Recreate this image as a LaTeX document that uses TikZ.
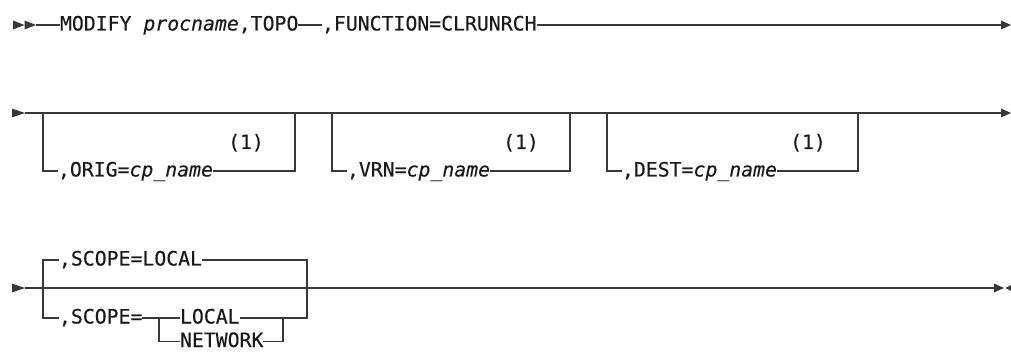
\documentclass[tikz,border=0pt]{standalone}
\usepackage{fontspec}
\setmonofont[FakeBold=0.35]{DejaVu Sans Mono}
\definecolor{railc}{HTML}{383838}
\definecolor{txtc}{HTML}{1A1A1A}
\begin{document}
\begin{tikzpicture}[x=1pt,y=-1pt,
  rail/.style={draw=railc, line width=1.3pt},
  tipfill/.style={fill=railc},
  lbl/.style={inner sep=0pt, outer sep=0pt, anchor=west, text height=11pt, text depth=0pt,
    font=\ttfamily\fontsize{19.8}{22}\selectfont, text=txtc},
  note/.style={lbl, anchor=center}]
\useasboundingbox (0,0) rectangle (1011,352);

% ---------- row 1 ----------
\coordinate (r1s) at (36,25);
\coordinate (r1e) at (1001,25);
\node[lbl] (m1) at (60,25) {MODIFY \textit{procname},TOPO};
\node[lbl] (m2) at (322,25) {,FUNCTION=CLRUNRCH};
\draw[rail] (r1s) -- (m1.west);
\draw[rail] (m1.east) -- (m2.west);
\draw[rail] (m2.east) -- (r1e);
\fill[tipfill] (13,20.5) -- (24.5,25) -- (13,29.5) -- cycle;
\fill[tipfill] (24.5,20.5) -- (36,25) -- (24.5,29.5) -- cycle;
\fill[tipfill] (1001,20.5) -- (1011,25) -- (1001,29.5) -- cycle;

% ---------- row 2 ----------
\coordinate (r2s) at (25,113);
\coordinate (r2e) at (1001,113);
\draw[rail] (r2s) -- (r2e);
\fill[tipfill] (12,108.5) -- (25,113) -- (12,117.5) -- cycle;
\fill[tipfill] (1001,108.5) -- (1011,113) -- (1001,117.5) -- cycle;

\coordinate (b1l) at (43,113);
\coordinate (b1r) at (295,113);
\node[lbl] (o1) at (58,171) {,ORIG=\textit{cp\_name}};
\draw[rail] (b1l) |- (o1.west);
\draw[rail] (o1.east) -| (b1r);
\node[note] (n1) at (246,143.5) {(1)};

\coordinate (b2l) at (332,113);
\coordinate (b2r) at (570,113);
\node[lbl] (o2) at (347,171) {,VRN=\textit{cp\_name}};
\draw[rail] (b2l) |- (o2.west);
\draw[rail] (o2.east) -| (b2r);
\node[note] (n2) at (521,143.5) {(1)};

\coordinate (b3l) at (607,113);
\coordinate (b3r) at (858,113);
\node[lbl] (o3) at (622,171) {,DEST=\textit{cp\_name}};
\draw[rail] (b3l) |- (o3.west);
\draw[rail] (o3.east) -| (b3r);
\node[note] (n3) at (808,143.5) {(1)};

% ---------- row 3 ----------
\coordinate (r3s) at (25,288);
\coordinate (r3e) at (994,288);
\draw[rail] (r3s) -- (r3e);
\fill[tipfill] (12,283.5) -- (25,288) -- (12,292.5) -- cycle;
\fill[tipfill] (994,283.5) -- (1004,288) -- (994,292.5) -- cycle;
\fill[tipfill] (1012,284.5) -- (1005.5,288) -- (1012,291.5) -- cycle;

\coordinate (c1) at (43,288);
\coordinate (c2) at (307,288);
\coordinate (c2b) at (307,318);
\node[lbl] (s1) at (59,260) {,SCOPE=LOCAL};
\draw[rail] (c1) |- (s1.west);
\draw[rail] (s1.east) -| (c2);
\node[lbl] (s2) at (59,318) {,SCOPE=};
\coordinate (j1) at (159,318);
\coordinate (j2) at (283,318);
\node[lbl] (l1) at (180,318) {LOCAL};
\node[lbl] (l2) at (180,341.5) {NETWORK};
\draw[rail] (c1) |- (s2.west);
\draw[rail] (s2.east) -- (j1) -- (l1.west);
\draw[rail] (l1.east) -- (j2) -- (c2b) -- (c2);
\draw[rail] (j1) |- (l2.west);
\draw[rail] (l2.east) -| (j2);
\end{tikzpicture}
\end{document}
